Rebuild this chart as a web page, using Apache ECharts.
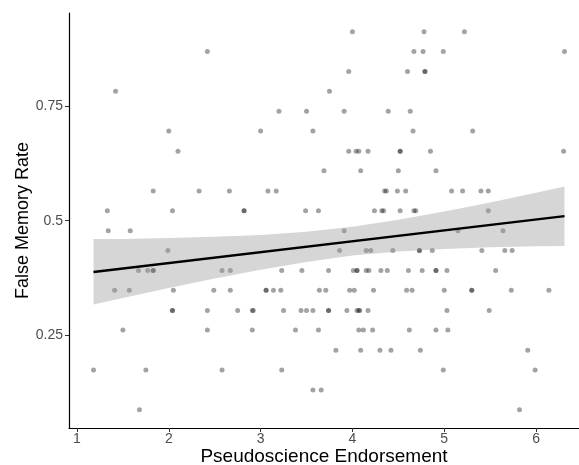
<!DOCTYPE html>
<html>
<head>
<meta charset="utf-8">
<script src="https://cdn.jsdelivr.net/npm/echarts@6/dist/echarts.min.js"></script>
<style>
  html, body { margin: 0; padding: 0; background: #fff; }
  #chart { width: 579px; height: 465px; }
</style>
</head>
<body>
<div id="chart"></div>
<script>
// Данные: y — доля ложных воспоминаний, x — оценка псевдонауки
const rates = [0.913, 0.870, 0.826, 0.783, 0.739, 0.696, 0.652, 0.609, 0.565, 0.522,
               0.478, 0.435, 0.391, 0.348, 0.304, 0.261, 0.217, 0.174, 0.130, 0.087];
const endorsementByRate = [
  [4.00, 4.78, 5.22],
  [2.42, 4.67, 4.77, 4.99, 6.31],
  [3.96, 4.60, 4.79, 4.79],
  [1.42, 3.75],
  [3.20, 3.50, 3.91, 4.39, 4.63],
  [2.00, 3.00, 3.57, 4.66, 5.31],
  [2.10, 3.96, 4.04, 4.07, 4.17, 4.52, 4.52, 4.85, 6.30],
  [3.69, 4.09, 4.50, 4.91],
  [1.83, 2.33, 2.66, 3.08, 3.17, 4.35, 4.37, 4.49, 4.58, 5.08, 5.20, 5.40, 5.48],
  [1.33, 2.04, 2.82, 2.82, 3.49, 3.63, 4.24, 4.32, 4.34, 4.52, 4.67, 4.69, 5.48],
  [1.34, 1.58, 3.91, 5.15, 5.64],
  [1.99, 3.86, 4.15, 4.20, 4.44, 4.73, 4.73, 4.87, 5.41, 5.66, 5.74],
  [1.67, 1.77, 1.83, 1.83, 2.58, 2.67, 3.23, 3.45, 3.74, 4.01, 4.05, 4.05, 4.15, 4.18,
   4.31, 4.38, 4.61, 4.76, 4.91, 4.91, 5.03, 5.56],
  [1.41, 1.57, 2.05, 2.49, 2.67, 3.06, 3.06, 3.14, 3.22, 3.64, 3.71, 3.97, 4.02, 4.23,
   4.59, 4.65, 5.00, 5.30, 5.30, 5.73, 6.14],
  [2.04, 2.04, 2.42, 2.75, 2.91, 2.92, 3.25, 3.44, 3.50, 3.57, 3.74, 3.74, 3.94, 4.05,
   4.07, 4.08, 4.17, 5.03, 5.49],
  [1.50, 2.42, 2.91, 3.38, 3.63, 4.07, 4.12, 4.22, 4.62, 4.91, 5.04],
  [3.82, 4.09, 4.30, 4.42, 4.74, 5.91],
  [1.18, 1.75, 2.58, 3.23, 4.99, 5.99],
  [3.57, 3.66],
  [1.68, 5.82]
];

// Линия регрессии и доверительная полоса
const fitX = [1.18, 6.31];
const fitY = [0.388, 0.510];
const bandX  = [1.18, 1.5, 2.0, 2.5, 3.0, 3.5, 4.0, 4.5, 5.0, 5.5, 6.0, 6.31];
const bandLo = [0.317, 0.331, 0.353, 0.374, 0.393, 0.410, 0.424, 0.433, 0.438, 0.442, 0.444, 0.445];
const bandHi = [0.460, 0.460, 0.462, 0.465, 0.469, 0.476, 0.487, 0.502, 0.520, 0.540, 0.561, 0.575];

const xTicks = [1, 2, 3, 4, 5, 6];
const yTicks = [0.25, 0.5, 0.75];

const points = [];
endorsementByRate.forEach(function(row, i) {
  row.forEach(function(x) { points.push([x, rates[i]]); });
});

const font = "'Liberation Sans', Arial, sans-serif";

echarts.init(document.getElementById('chart')).setOption({
  animation: false,
  grid: { left: 69, right: 0, top: 13, bottom: 37, outerBoundsMode: 'none', containLabel: false },
  xAxis: {
    type: 'value',
    min: 0.913,
    max: 6.468,
    name: 'Pseudoscience Endorsement',
    nameLocation: 'middle',
    nameGap: 19,
    nameMoveOverlap: false,
    nameTextStyle: { color: '#000', fontSize: 19, fontFamily: font },
    splitLine: { show: false },
    axisLine: { show: true, onZero: false, lineStyle: { color: '#000', width: 1.2 } },
    axisTick: { show: true, length: 4, customValues: xTicks, lineStyle: { color: '#333' } },
    axisLabel: { customValues: xTicks, color: '#4d4d4d', fontSize: 14, fontFamily: font, margin: 4 }
  },
  yAxis: {
    type: 'value',
    min: 0.047,
    max: 0.954,
    name: 'False Memory Rate',
    nameLocation: 'middle',
    nameGap: 37,
    nameMoveOverlap: false,
    nameTextStyle: { color: '#000', fontSize: 18, fontFamily: font },
    splitLine: { show: false },
    axisLine: { show: true, onZero: false, lineStyle: { color: '#000', width: 1.2 } },
    axisTick: { show: true, length: 4, customValues: yTicks, lineStyle: { color: '#333' } },
    axisLabel: { customValues: yTicks, color: '#4d4d4d', fontSize: 14, fontFamily: font, margin: 6 }
  },
  series: [
    {
      type: 'scatter',
      data: points,
      symbolSize: 5,
      itemStyle: { color: 'rgba(0,0,0,0.45)' },
      z: 2
    },
    {
      type: 'custom',
      data: [0],
      z: 3,
      renderItem: function(params, api) {
        const pts = [];
        for (let i = 0; i < bandX.length; i++) pts.push(api.coord([bandX[i], bandHi[i]]));
        for (let i = bandX.length - 1; i >= 0; i--) pts.push(api.coord([bandX[i], bandLo[i]]));
        return {
          type: 'polygon',
          shape: { points: pts },
          style: { fill: 'rgba(153,153,153,0.4)' }
        };
      }
    },
    {
      type: 'line',
      data: fitX.map(function(x, i) { return [x, fitY[i]]; }),
      showSymbol: false,
      lineStyle: { color: '#000', width: 2.4 },
      z: 4
    }
  ]
});
</script>
</body>
</html>
